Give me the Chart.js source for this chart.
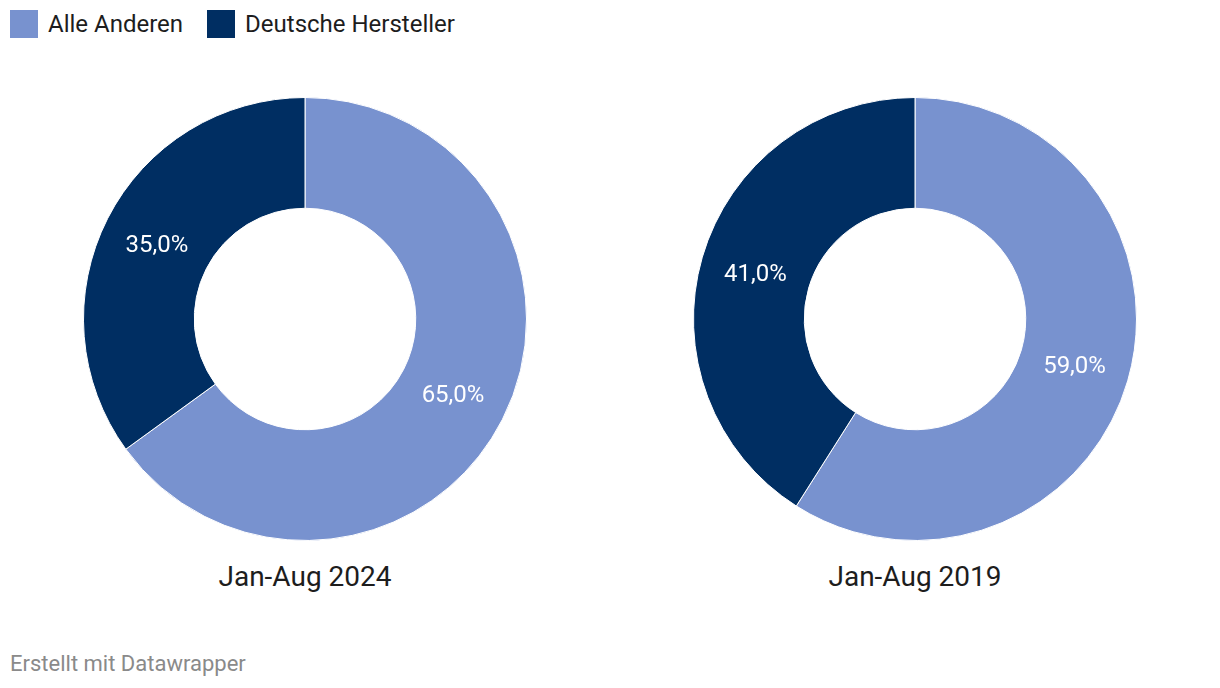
<!DOCTYPE html>
<html>
<head>
<meta charset="utf-8">
<script src="https://cdn.jsdelivr.net/npm/chart.js@4.4.1/dist/chart.umd.min.js"></script>
<style>
  body { margin: 0; width: 1220px; height: 688px; background: #fff; font-family: Roboto, sans-serif; position: relative; overflow: hidden; }
  .legend { position: absolute; top: 10px; left: 10px; display: flex; align-items: center; font-size: 24px; line-height: 28px; color: #1d1d1d; }
  .legend span.sw { display: inline-block; width: 28px; height: 28px; margin-right: 10px; }
  .legend .item { display: flex; align-items: center; margin-right: 24px; }
  .wrap { position: absolute; top: 97px; width: 444px; height: 444px; }
  .title { position: absolute; top: 561px; width: 444px; text-align: center; font-size: 28px; line-height: 32px; color: #1d1d1d; }
  .footer { position: absolute; left: 10px; top: 651px; font-size: 22px; line-height: 26px; color: #8a8a8a; }
</style>
</head>
<body>
<div class="legend" id="legend"></div>
<div class="wrap" style="left:83px"><canvas id="c0"></canvas></div>
<div class="wrap" style="left:693px"><canvas id="c1"></canvas></div>
<div class="title" style="left:83px" id="t0"></div>
<div class="title" style="left:693px" id="t1"></div>
<div class="footer">Erstellt mit Datawrapper</div>
<script>
const categories = ['Alle Anderen', 'Deutsche Hersteller']
const colors = ['#7892cf', '#002e62']
const periods = ['Jan-Aug 2024', 'Jan-Aug 2019']
const values2024 = [65.0, 35.0]
const values2019 = [59.0, 41.0]

const legend = document.getElementById('legend')
categories.forEach((name, i) => {
  const item = document.createElement('div')
  item.className = 'item'
  item.innerHTML = '<span class="sw" style="background:' + colors[i] + '"></span>' + name
  legend.appendChild(item)
})

// values drawn in the middle of each arc
const arcLabels = {
  id: 'arcLabels',
  afterDatasetsDraw(chart) {
    const ctx = chart.ctx
    const meta = chart.getDatasetMeta(0)
    ctx.save()
    ctx.font = '24px Roboto'
    ctx.fillStyle = '#ffffff'
    ctx.textAlign = 'center'
    ctx.textBaseline = 'middle'
    meta.data.forEach((arc, i) => {
      const pos = arc.tooltipPosition()
      const v = chart.data.datasets[0].data[i]
      ctx.fillText(v.toFixed(1).replace('.', ',') + '%', pos.x, pos.y + 2)
    })
    ctx.restore()
  }
}

function makeChart(id, values) {
  new Chart(document.getElementById(id), {
    type: 'doughnut',
    data: {
      labels: categories,
      datasets: [{
        data: values,
        backgroundColor: colors,
        borderColor: '#ffffff',
        borderWidth: 1
      }]
    },
    options: {
      responsive: true,
      maintainAspectRatio: true,
      aspectRatio: 1,
      animation: false,
      cutout: '50%',
      layout: { padding: 0 },
      plugins: { legend: { display: false }, tooltip: { enabled: false } }
    },
    plugins: [arcLabels]
  })
}

makeChart('c0', values2024)
makeChart('c1', values2019)
document.getElementById('t0').textContent = periods[0]
document.getElementById('t1').textContent = periods[1]
</script>
</body>
</html>
